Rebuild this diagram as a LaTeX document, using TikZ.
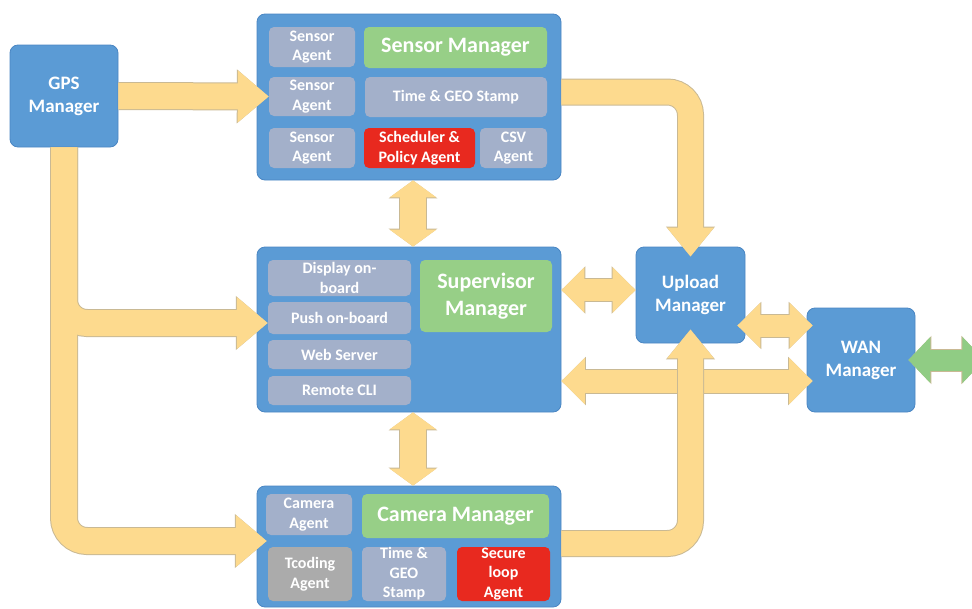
\documentclass[tikz,border=0pt]{standalone}
\usepackage{fontspec}
\setmainfont{Carlito}
\usetikzlibrary{arrows.meta,calc}

\definecolor{mgrblue}{HTML}{5B9BD5}
\definecolor{mgredge}{HTML}{4A86C3}
\definecolor{agentgray}{HTML}{A3B0CA}
\definecolor{plaingray}{HTML}{ABABAB}
\definecolor{mgrgreen}{HTML}{97CF87}
\definecolor{alertred}{HTML}{E8291F}
\definecolor{pipefill}{HTML}{FDDA8E}
\definecolor{pipeedge}{HTML}{C9B994}
\definecolor{wanfill}{HTML}{90CC84}

\begin{document}
\begin{tikzpicture}[x=1pt,y=-1pt]

	\tikzset{box/.style={draw=mgredge,fill=mgrblue,line width=0.8pt,rounded corners=8pt,inner sep=0pt},
		manager/.style={box,text=white,align=center,font=\bfseries\fontsize{19}{23}\selectfont},
		agent/.style={fill=agentgray,rounded corners=5pt,inner sep=0pt,text=white,align=center,font=\bfseries\fontsize{16}{19.5}\selectfont},
		title/.style={agent,fill=mgrgreen,font=\bfseries\fontsize{22}{27}\selectfont},
		alert/.style={agent,fill=alertred},
		wh/.style 2 args={minimum width=#1pt,minimum height=#2pt},
		outline/.style={/utils/exec={\def\grow{2pt}},draw=pipeedge},
		body/.style={/utils/exec={\def\grow{0pt}},draw=pipefill},
		shaft/.style={line width=#1+\grow},
		gpstip/.tip={Triangle[width=24pt 1,length=18pt .5]},
		uptip/.tip={Triangle[width=20pt 1,length=16.5pt .5]},
		vtip/.tip={Triangle[width=20pt 1,length=4pt .5]},
		htip/.tip={Triangle[width=22pt 1,length=12pt .5]},
		gtip/.tip={Triangle[width=24pt 1,length=11.5pt .5]}}

	\useasboundingbox (0,0) rectangle (972,608);

	% managers
	\node[manager,wh={108}{102}] (gps) at (64,96) {GPS\\Manager};
	\node[box,wh={304}{166}] (sensor) at (409,97) {};
	\node[box,wh={304}{165}] (sup) at (409,329.5) {};
	\node[box,wh={304}{121}] (cam) at (409,546.5) {};
	\node[manager,wh={109}{96}] (upload) at (690.5,295) {Upload\\Manager};
	\node[manager,wh={108}{104}] (wan) at (861,360) {WAN\\Manager};

	% sensor side
	\node[agent,wh={86}{40}] (sa1) at (312,47) {Sensor\\Agent};
	\node[agent,wh={86}{39}] (sa2) at (312,96.5) {Sensor\\Agent};
	\node[agent,wh={86}{40}] (sa3) at (312,148) {Sensor\\Agent};
	\node[title,wh={183}{41}] (smgr) at (455.5,47.5) {Sensor Manager};
	\node[agent,wh={182}{40}] (stime) at (456,97) {Time \& GEO Stamp};
	\node[alert,wh={111}{40}] (sched) at (419.5,148) {Scheduler \&\\Policy Agent};
	\node[agent,wh={67}{40}] (csv) at (513.5,148) {CSV\\Agent};

	% supervisor side
	\node[agent,wh={143}{36}] (disp) at (339.5,278) {Display on-\\board};
	\node[agent,wh={143}{32}] (push) at (339.5,318) {Push on-board};
	\node[agent,wh={143}{29}] (web) at (339.5,354.5) {Web Server};
	\node[agent,wh={143}{29}] (cli) at (339.5,390.5) {Remote CLI};
	\node[title,wh={132}{72}] (supmgr) at (486,296) {Supervisor\\Manager};

	% camera side
	\node[agent,wh={86}{41}] (cama) at (309,514.5) {Camera\\Agent};
	\node[title,wh={187}{44}] (cammgr) at (455.5,516) {Camera Manager};
	\node[agent,fill=plaingray,wh={84}{54}] (tcod) at (310,574) {Tcoding\\Agent};
	\node[agent,wh={84}{54}] (ctime) at (404,574) {Time \&\\GEO\\Stamp};
	\node[alert,wh={93}{54}] (secure) at (503.5,574) {Secure\\loop\\Agent};

	\coordinate (uw) at ($(upload.south east)!.5!(wan.north west)$);
	\coordinate (sw) at ($(wan.west)+(6,21)$);

	% links, outline first then body
	\foreach \pass in {outline,body} {
		\draw[\pass,shaft=26pt,-{gpstip}] (gps.east) -- (sa2.west);
		\draw[\pass,shaft=26pt,-{gpstip},rounded corners=23pt] (gps.south) |- ($(push.west)+(0,5)$);
		\draw[\pass,shaft=26pt,-{gpstip},rounded corners=23pt] (gps.south) |- ($(cama.south west)!.5!(tcod.north west)$);

		\draw[\pass,shaft=26pt,{vtip}-{vtip}] ([xshift=4pt]sensor.south) -- ([xshift=4pt]sup.north);
		\draw[\pass,shaft=26pt,{vtip}-{vtip}] ([xshift=4pt]sup.south) -- ([xshift=4pt]cam.north);

		\draw[\pass,shaft=25pt,-{uptip},rounded corners=23pt] ([yshift=5pt]sensor.east) -| ([yshift=-10pt]upload.north);

		\draw[\pass,shaft=22pt,{htip}-{htip}] ($(sup.east |- upload.west)+(0,-5)$) -- ($(upload.west)+(0,-5)$);
		\draw[\pass,shaft=22pt,{htip}-{htip}] ($(upload.east |- uw)+(-8,0)$) -- ($(wan.west |- uw)+(6,0)$);
		\draw[\pass,shaft=23pt,{htip}-{htip}] (sup.east |- sw) -- (sw);
	}

	% camera data crosses over the WAN link
	\foreach \pass in {outline,body}
		\draw[\pass,shaft=25pt,-{uptip},rounded corners=23pt] ([yshift=3pt]cam.east) -| ([yshift=14pt]upload.south);

	% outside world
	\draw[outline,shaft=21pt,{gtip}-{gtip}] ([xshift=-7pt]wan.east) -- ++(76,0);
	\draw[body,draw=wanfill,shaft=21pt,{gtip}-{gtip}] ([xshift=-7pt]wan.east) -- ++(76,0);

\end{tikzpicture}
\end{document}
